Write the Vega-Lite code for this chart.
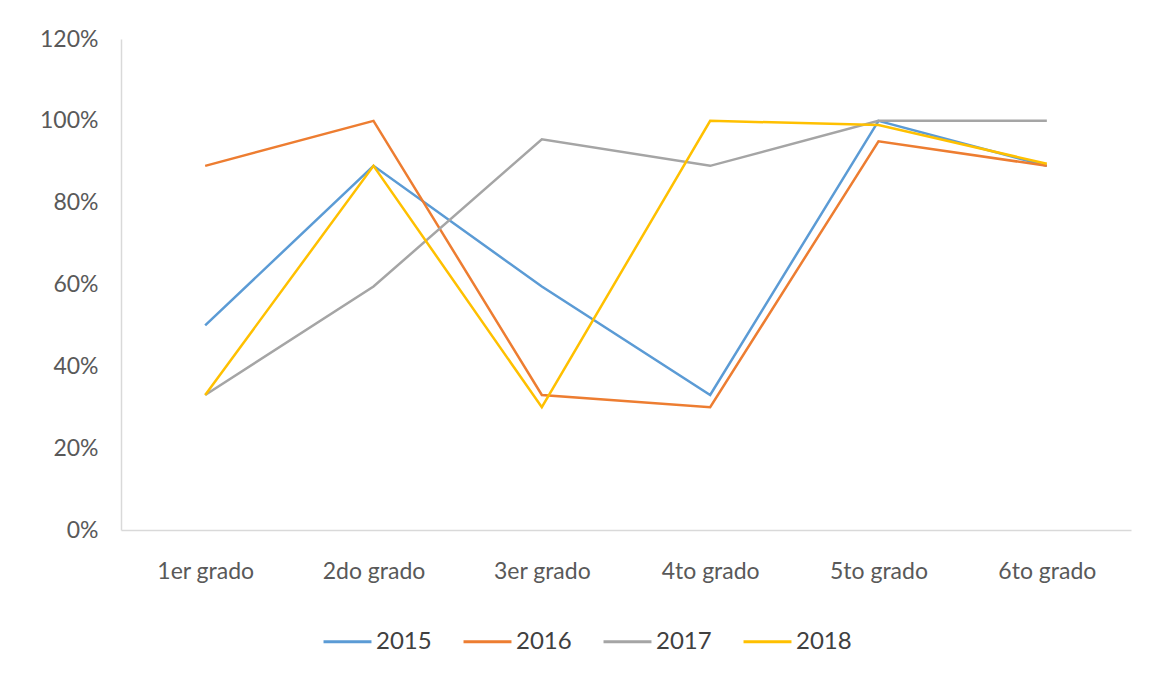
{
  "$schema": "https://vega.github.io/schema/vega-lite/v6.json",
  "width": 1010,
  "height": 491,
  "autosize": {"type": "none"},
  "padding": {"left": 121, "top": 39, "right": 18, "bottom": 146},
  "background": "white",
  "config": {
    "view": {"stroke": null},
    "font": "Lato",
    "axis": {"labelFont": "Lato", "labelFontSize": 23, "labelColor": "#595959", "grid": false, "ticks": false, "domainColor": "#d9d9d9", "domainWidth": 1.5, "title": null},
    "legend": {"labelFont": "Lato", "labelFontSize": 24, "labelColor": "#404040"}
  },
  "data": {
    "values": [
      {"grado": "1er grado", "year": "2015", "v": 0.50},
      {"grado": "2do  grado", "year": "2015", "v": 0.89},
      {"grado": "3er grado", "year": "2015", "v": 0.595},
      {"grado": "4to grado", "year": "2015", "v": 0.33},
      {"grado": "5to grado", "year": "2015", "v": 1.00},
      {"grado": "6to grado", "year": "2015", "v": 0.89},
      {"grado": "1er grado", "year": "2016", "v": 0.89},
      {"grado": "2do  grado", "year": "2016", "v": 1.00},
      {"grado": "3er grado", "year": "2016", "v": 0.33},
      {"grado": "4to grado", "year": "2016", "v": 0.30},
      {"grado": "5to grado", "year": "2016", "v": 0.95},
      {"grado": "6to grado", "year": "2016", "v": 0.89},
      {"grado": "1er grado", "year": "2017", "v": 0.33},
      {"grado": "2do  grado", "year": "2017", "v": 0.595},
      {"grado": "3er grado", "year": "2017", "v": 0.955},
      {"grado": "4to grado", "year": "2017", "v": 0.89},
      {"grado": "5to grado", "year": "2017", "v": 1.00},
      {"grado": "6to grado", "year": "2017", "v": 1.00},
      {"grado": "1er grado", "year": "2018", "v": 0.33},
      {"grado": "2do  grado", "year": "2018", "v": 0.89},
      {"grado": "3er grado", "year": "2018", "v": 0.30},
      {"grado": "4to grado", "year": "2018", "v": 1.00},
      {"grado": "5to grado", "year": "2018", "v": 0.99},
      {"grado": "6to grado", "year": "2018", "v": 0.895}
    ]
  },
  "mark": {"type": "line", "strokeWidth": 2.5},
  "encoding": {
    "x": {
      "field": "grado", "type": "nominal", "sort": null,
      "scale": {"type": "point", "padding": 0.5},
      "axis": {"labelAngle": 0, "labelPadding": 30, "domainColor": "#d9d9d9"}
    },
    "y": {
      "field": "v", "type": "quantitative",
      "scale": {"domain": [0, 1.2], "nice": false},
      "axis": {"format": ".0%", "values": [0, 0.2, 0.4, 0.6, 0.8, 1.0, 1.2], "labelPadding": 23}
    },
    "color": {
      "field": "year", "type": "nominal",
      "scale": {"domain": ["2015", "2016", "2017", "2018"], "range": ["#5b9bd5", "#ed7d31", "#a5a5a5", "#ffc000"]},
      "legend": {
        "title": null, "orient": "none", "direction": "horizontal",
        "legendX": 201, "legendY": 577,
        "symbolType": "stroke", "symbolSize": 2300, "symbolStrokeWidth": 3,
        "labelOffset": 3, "columnPadding": 25
      }
    }
  }
}
